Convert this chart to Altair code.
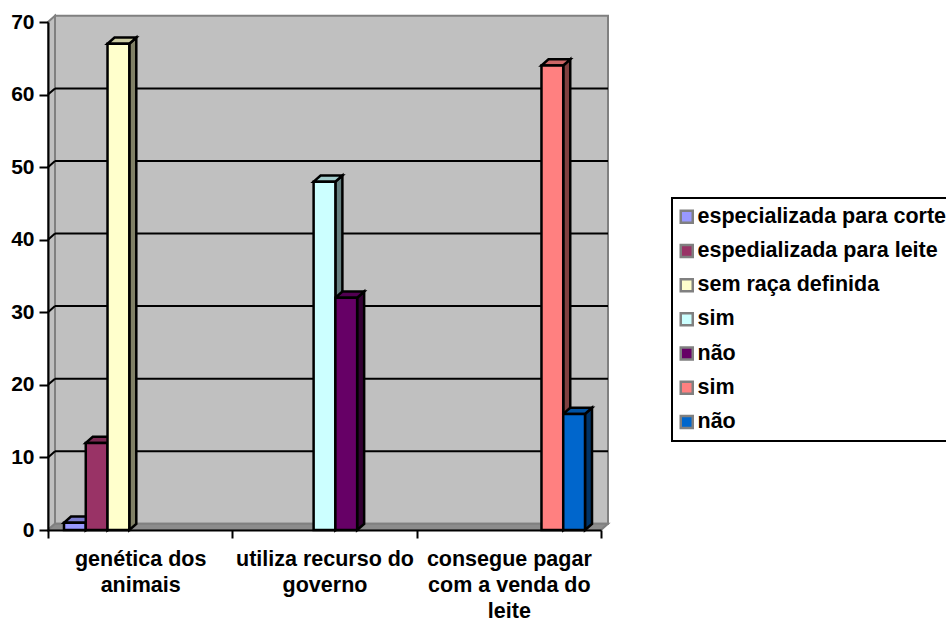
import altair as alt
import pandas as pd

# Survey answers per group, one bar per answer
categories = ["genética dos animais", "utiliza recurso do governo", "consegue pagar com a venda do leite"]
series_ids = ["s1", "s2", "s3", "s4", "s5", "s6", "s7"]
series_names = ["especializada para corte", "espedializada para leite", "sem raça definida",
                "sim", "não", "sim", "não"]
series_group = [0, 0, 0, 1, 1, 2, 2]
series_values = [1, 12, 67, 48, 32, 64, 16]
front_colors = ["#9999ff", "#993366", "#ffffcc", "#ccffff", "#660066", "#ff8080", "#0066cc"]
side_colors = ["#4d4d80", "#4d1a33", "#808066", "#668080", "#330033", "#804040", "#003366"]
top_colors = ["#7a7acc", "#7a2952", "#cccca3", "#a3cccc", "#520052", "#cc6666", "#0052a3"]
y_ticks = [0, 10, 20, 30, 40, 50, 60, 70]

# Extrusion depth of the pseudo 3D box, in axis units
DX = 0.038
DY = 0.85
GAP = 0.0868
BAR = (1 - 2 * GAP) / 7

FONT = "Liberation Sans"
LINE = 2.5
X = alt.Scale(domain=[0, 3], nice=False, zero=False)
Y = alt.Scale(domain=[0, 70], nice=False, zero=False)

label_lines = (
    "datum.value === 0.5 ? ['genética dos', 'animais'] : "
    "datum.value === 1.5 ? ['utiliza recurso do', 'governo'] : "
    "datum.value === 2.5 ? ['consegue pagar', 'com a venda do', 'leite'] : ''"
)
legend_names = "[" + ",".join(f"'{n}'" for n in series_names) + "]"
legend_ids = "[" + ",".join(f"'{s}'" for s in series_ids) + "]"

x_axis = alt.Axis(
    values=[0, 0.5, 1, 1.5, 2, 2.5, 3], labelExpr=label_lines, grid=False, title=None,
    domainColor="black", domainWidth=2, tickColor="black", tickWidth=2, tickSize=8,
    tickOpacity={"condition": {"test": "datum.value % 1 === 0", "value": 1}, "value": 0},
    labelFont=FONT, labelFontSize=21.5, labelFontWeight="bold", labelColor="black",
    labelLineHeight=26, labelPadding=10, labelAngle=0, labelOverlap=False,
    labelFlush=False, labelBound=False, labelLimit=400, zindex=1,
)
y_axis = alt.Axis(
    values=y_ticks, grid=False, title=None,
    domainColor="black", domainWidth=2, tickColor="black", tickWidth=2, tickSize=9,
    labelFont=FONT, labelFontSize=21, labelFontWeight="bold", labelColor="black",
    labelPadding=5, labelOverlap=False, labelFlush=False, labelBound=False, zindex=1,
)


def side_rows(key, x, low, high, fill):
    return [
        {"key": key, "x": x, "y": low, "y2": high, "fill": fill},
        {"key": key, "x": x + DX, "y": low + DY, "y2": high + DY, "fill": fill},
    ]


def top_rows(key, x0, x1, v, fill):
    return [
        {"key": key, "x": x0, "y": v, "y2": v, "fill": fill},
        {"key": key, "x": x0 + DX, "y": v, "y2": v + DY, "fill": fill},
        {"key": key, "x": x1, "y": v, "y2": v + DY, "fill": fill},
        {"key": key, "x": x1 + DX, "y": v + DY, "y2": v + DY, "fill": fill},
    ]


bars = []
sides = []
tops = []
for i, sid in enumerate(series_ids):
    x0 = series_group[i] + GAP + i * BAR
    x1 = x0 + BAR
    v = series_values[i]
    bars.append({"series": sid, "x": x0, "x2": x1, "y": 0, "y2": v})
    sides += side_rows(sid, x1, 0, v, side_colors[i])
    tops += top_rows(sid, x0, x1, v, top_colors[i])
bars = pd.DataFrame(bars)
sides = pd.DataFrame(sides)
tops = pd.DataFrame(tops)


def face(rows, stroke, width):
    return alt.Chart(rows).mark_area(stroke=stroke, strokeWidth=width, strokeJoin="miter", opacity=1).encode(
        x=alt.X("x:Q", scale=X, axis=x_axis),
        y=alt.Y("y:Q", scale=Y, axis=y_axis, stack=None),
        y2="y2:Q",
        fill=alt.Fill("fill:N", scale=None),
        detail="key:N",
    )


# Box behind the bars: left wall, back wall and floor
left_wall = face(pd.DataFrame(side_rows("wall", 0, 0, 70, "#c0c0c0")), "#808080", 2)
floor = face(pd.DataFrame(top_rows("floor", 0, 3, 0, "#8c8c8c")), "#808080", 2)
back_wall = alt.Chart(pd.DataFrame([{"x": DX, "x2": 3 + DX, "y": DY, "y2": 70 + DY}])).mark_rect(
    fill="#c0c0c0", stroke="#808080", strokeWidth=2
).encode(
    x=alt.X("x:Q", scale=X, axis=x_axis), x2="x2:Q",
    y=alt.Y("y:Q", scale=Y, axis=y_axis), y2="y2:Q",
)

# Gridlines run along the back wall and fold down the left wall
grid_values = [v for v in y_ticks if 0 < v < 70]
grid_back = alt.Chart(pd.DataFrame({"v": [v + DY for v in grid_values], "x": DX, "x2": 3 + DX})).mark_rule(
    color="black", strokeWidth=2
).encode(
    x=alt.X("x:Q", scale=X, axis=x_axis), x2="x2:Q",
    y=alt.Y("v:Q", scale=Y, axis=y_axis),
)
grid_fold = alt.Chart(pd.DataFrame({"v": grid_values, "v2": [v + DY for v in grid_values], "x": 0.0, "x2": DX})).mark_rule(
    color="black", strokeWidth=2
).encode(
    x=alt.X("x:Q", scale=X, axis=x_axis), x2="x2:Q",
    y=alt.Y("v:Q", scale=Y, axis=y_axis), y2="v2:Q",
)

front = alt.Chart(bars).mark_rect(stroke="black", strokeWidth=LINE, strokeJoin="miter").encode(
    x=alt.X("x:Q", scale=X, axis=x_axis),
    x2="x2:Q",
    y=alt.Y("y:Q", scale=Y, axis=y_axis),
    y2="y2:Q",
    fill=alt.Fill(
        "series:N",
        scale=alt.Scale(domain=series_ids, range=front_colors),
        legend=alt.Legend(
            title=None, orient="none", legendX=624, legendY=176,
            labelExpr=f"{legend_names}[indexof({legend_ids}, datum.value)]",
            labelFont=FONT, labelFontSize=21.5, labelFontWeight="bold", labelColor="black",
            labelLimit=400,
            symbolType="square", symbolSize=144, symbolStrokeColor="black", symbolStrokeWidth=2.5,
            symbolOpacity=1, symbolOffset=-4, labelOffset=0, rowPadding=11.2, padding=8,
            strokeColor="black", fillColor="white",
        ),
    ),
)

chart = alt.layer(
    left_wall, back_wall, floor, grid_back, grid_fold,
    face(sides, "black", LINE), face(tops, "black", LINE), front,
).properties(
    width=553, height=508, background="white",
    padding={"left": 48, "top": 22, "right": 345, "bottom": 91},
    autosize=alt.AutoSizeParams(type="none"),
).configure_view(stroke=None).configure_legend(strokeWidth=2)

chart.save("out.html", embed_options={"renderer": "svg", "actions": False})
